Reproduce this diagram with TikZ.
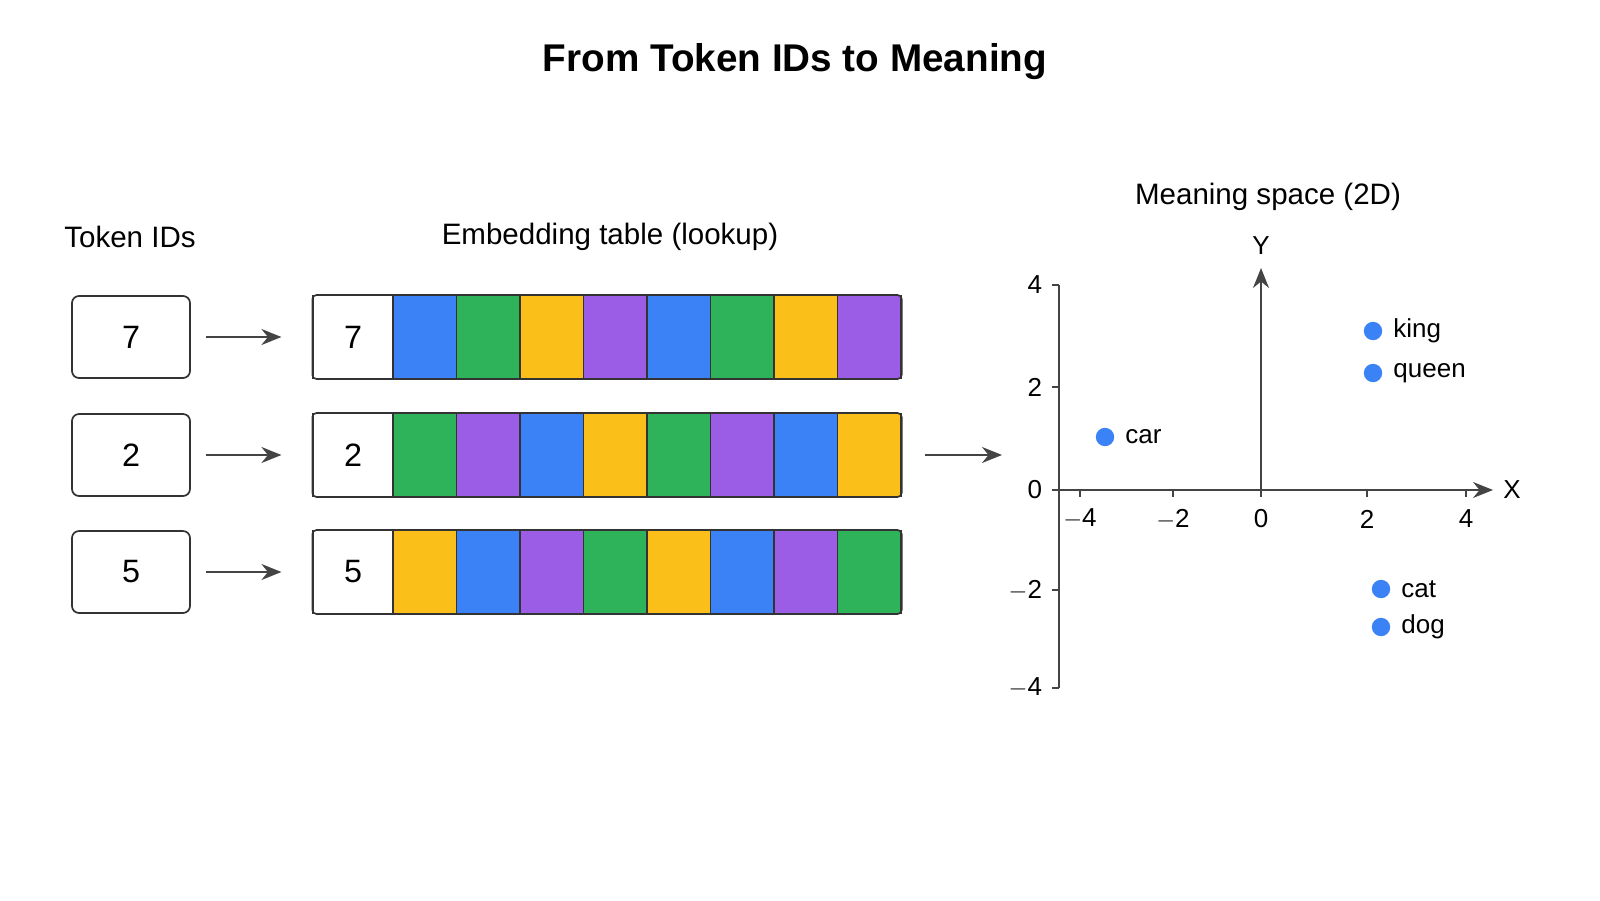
\documentclass[tikz,border=0pt]{standalone}
\usepackage{fontspec}
\setmainfont{Liberation Sans}
\usetikzlibrary{arrows.meta,positioning}
\definecolor{cblue}{HTML}{3B82F6}
\definecolor{cgreen}{HTML}{2EB35A}
\definecolor{cyellow}{HTML}{FBBF1A}
\definecolor{cpurple}{HTML}{9B5DE5}
\definecolor{axgray}{HTML}{444444}
\tikzset{
  idbox/.style={draw=black!80, line width=1.2pt, rounded corners=5pt, minimum width=29.5mm, minimum height=20.5mm, font=\fontsize{23}{25}\selectfont},
  cell/.style={draw=black!80, line width=0.9pt, minimum width=15.9mm, minimum height=20.7mm, inner sep=0pt},
  flow/.style={-{Stealth[length=5mm,width=4mm]}, axgray, line width=1.4pt},
  axis/.style={axgray, line width=1.2pt},
  head/.style={font=\fontsize{21}{23}\selectfont},
  lbl/.style={font=\fontsize{18.5}{20}\selectfont},
  pt/.style={circle, fill=cblue, minimum size=4.6mm, inner sep=0pt},
}
\begin{document}
\begin{tikzpicture}[x=0.25mm,y=-0.25mm]
\useasboundingbox (0,0) rectangle (1600,900);
\node[font=\fontsize{27.5}{30}\selectfont\bfseries] (title) at (795,62) {From Token IDs to Meaning};
\node[head] (idhead) at (130,237) {Token IDs};
\node[head] (tabhead) at (610,237) {Embedding table (lookup)};
% token ids and table rows
\foreach \id/\y/\cols [count=\r] in {7/337/{cblue,cgreen,cyellow,cpurple,cblue,cgreen,cyellow,cpurple},
    2/455/{cgreen,cpurple,cblue,cyellow,cgreen,cpurple,cblue,cyellow},
    5/572/{cyellow,cblue,cpurple,cgreen,cyellow,cblue,cpurple,cgreen}} {
  \node[idbox] (id\r) at (131,\y) {\id};
  \node[cell, minimum width=20mm, fill=white, font=\fontsize{23}{25}\selectfont] (row\r-0) at (353,\y) {\id};
  \foreach \c [count=\k] in \cols {
    \node[cell, fill=\c] (row\r-\k) at ({393+63.5*(\k-0.5)},\y) {};
  }
  \draw[black!80, line width=1.2pt, rounded corners=3pt] (row\r-0.north west) rectangle (row\r-8.south east);
  \draw[flow] (id\r.east) ++(15,0) coordinate (s\r) -- ([xshift=-22]row\r-0.west);
}
\coordinate (ts) at (925,455);
\coordinate (te) at (1002,455);
\draw[flow] (ts) -- (te);
% meaning space
\node[head] (plothead) at (1268,197) {Meaning space (2D)};
\coordinate (o) at (1261,490);
\draw[axis] (1059,285) coordinate (ytop) -- (1059,688) coordinate (ybot);
\draw[axis, -{Stealth[length=5mm,width=4mm]}] (1059,490) -- (1493,490) coordinate (xend);
\draw[axis, -{Stealth[length=5mm,width=4mm]}] (o) -- (1261,268) coordinate (yend);
\node[lbl] (xl) at (1512,490) {X};
\node[lbl] (yl) at (1261,246) {Y};
\foreach \v/\yy in {4/285,2/387,0/490,-2/590,-4/688} {
  \draw[axis] (1052,\yy) -- (1059,\yy);
  \node[lbl, anchor=east] at (1047,\yy) {\ifnum\v<0 $-$\number-\v\else\v\fi};
}
\foreach \v/\xx in {-4/1080,-2/1173,0/1261,2/1367,4/1466} {
  \draw[axis] (\xx,490) -- (\xx,497);
  \node[lbl] at (\xx,519) {\ifnum\v<0 $-$\number-\v\else\v\fi};
}
\foreach \w/\px/\py in {king/1373/331,queen/1373/373,car/1105/437,cat/1381/589,dog/1381/627} {
  \node[pt] (\w) at (\px,\py) {};
  \node[lbl, right=1.5mm of \w] {\w};
}
\end{tikzpicture}
\end{document}
